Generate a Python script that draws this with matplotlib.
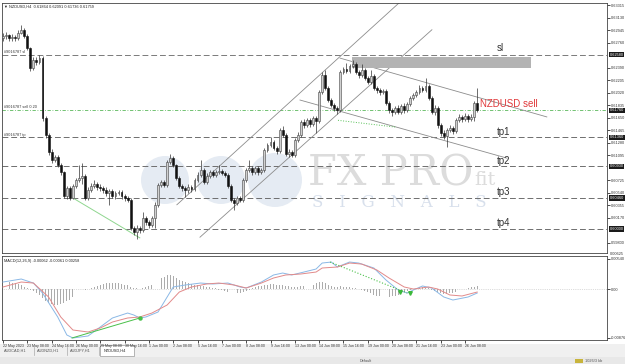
import matplotlib.pyplot as plt
from matplotlib.patches import Rectangle, Ellipse

plt.rcParams["font.family"] = ["Liberation Sans", "DejaVu Sans"]

# NZDUSD H4 bars, 22 May - 26 Jun 2023 (each bar opens at the previous close)
first_open = 0.6283
closes = [0.6286, 0.6287, 0.6283, 0.6284, 0.6283, 0.6290, 0.6295, 0.6286, 0.6268, 0.6238,
          0.6250, 0.6247, 0.6253, 0.6164, 0.6139, 0.6114, 0.6102, 0.6107, 0.6095, 0.6084,
          0.6049, 0.6061, 0.6046, 0.6064, 0.6073, 0.6076, 0.6079, 0.6046, 0.6058, 0.6064,
          0.6067, 0.6062, 0.6061, 0.6058, 0.6053, 0.6056, 0.6049, 0.6053, 0.6055, 0.6049,
          0.6046, 0.6043, 0.6001, 0.5996, 0.6001, 0.5999, 0.6016, 0.6010, 0.6006, 0.6016,
          0.6036, 0.6065, 0.6070, 0.6065, 0.6099, 0.6105, 0.6095, 0.6076, 0.6064, 0.6061,
          0.6058, 0.6062, 0.6059, 0.6073, 0.6080, 0.6087, 0.6070, 0.6079, 0.6084, 0.6080,
          0.6084, 0.6086, 0.6083, 0.6080, 0.6064, 0.6043, 0.6039, 0.6046, 0.6043, 0.6073,
          0.6087, 0.6090, 0.6084, 0.6090, 0.6084, 0.6087, 0.6117, 0.6124, 0.6129, 0.6120,
          0.6116, 0.6147, 0.6139, 0.6111, 0.6114, 0.6110, 0.6132, 0.6139, 0.6158, 0.6154,
          0.6161, 0.6155, 0.6164, 0.6160, 0.6203, 0.6228, 0.6209, 0.6191, 0.6184, 0.6179,
          0.6176, 0.6232, 0.6237, 0.6234, 0.6241, 0.6244, 0.6232, 0.6228, 0.6235, 0.6224,
          0.6218, 0.6227, 0.6209, 0.6206, 0.6203, 0.6204, 0.6187, 0.6176, 0.6173, 0.6179,
          0.6173, 0.6182, 0.6176, 0.6185, 0.6194, 0.6198, 0.6203, 0.6209, 0.6206, 0.6212,
          0.6194, 0.6173, 0.6179, 0.6154, 0.6142, 0.6138, 0.6147, 0.6150, 0.6145, 0.6161,
          0.6166, 0.6163, 0.6167, 0.6163, 0.6166, 0.6186, 0.6176]
highs = [0.6290, 0.6292, 0.6289, 0.6288, 0.6287, 0.6294, 0.6302, 0.6298, 0.6288, 0.6270,
         0.6254, 0.6255, 0.6257, 0.6256, 0.6167, 0.6142, 0.6118, 0.6110, 0.6110, 0.6098,
         0.6086, 0.6064, 0.6064, 0.6067, 0.6076, 0.6095, 0.6098, 0.6082, 0.6062, 0.6068,
         0.6073, 0.6070, 0.6066, 0.6064, 0.6062, 0.6059, 0.6060, 0.6057, 0.6058, 0.6058,
         0.6052, 0.6049, 0.6046, 0.6005, 0.6006, 0.6004, 0.6026, 0.6020, 0.6014, 0.6020,
         0.6040, 0.6068, 0.6073, 0.6073, 0.6102, 0.6111, 0.6108, 0.6097, 0.6079, 0.6067,
         0.6064, 0.6066, 0.6065, 0.6076, 0.6084, 0.6102, 0.6090, 0.6083, 0.6088, 0.6088,
         0.6087, 0.6095, 0.6089, 0.6086, 0.6083, 0.6066, 0.6046, 0.6049, 0.6049, 0.6076,
         0.6091, 0.6102, 0.6093, 0.6093, 0.6093, 0.6090, 0.6120, 0.6128, 0.6136, 0.6132,
         0.6123, 0.6150, 0.6152, 0.6142, 0.6118, 0.6117, 0.6135, 0.6143, 0.6161, 0.6163,
         0.6165, 0.6164, 0.6167, 0.6168, 0.6206, 0.6232, 0.6235, 0.6212, 0.6194, 0.6187,
         0.6182, 0.6235, 0.6240, 0.6246, 0.6244, 0.6250, 0.6247, 0.6235, 0.6244, 0.6238,
         0.6227, 0.6235, 0.6230, 0.6212, 0.6209, 0.6208, 0.6207, 0.6190, 0.6179, 0.6182,
         0.6183, 0.6185, 0.6186, 0.6188, 0.6197, 0.6202, 0.6206, 0.6213, 0.6212, 0.6224,
         0.6215, 0.6197, 0.6183, 0.6182, 0.6157, 0.6146, 0.6150, 0.6154, 0.6153, 0.6164,
         0.6170, 0.6169, 0.6172, 0.6170, 0.6170, 0.6189, 0.6209]
lows = [0.6279, 0.6281, 0.6278, 0.6279, 0.6278, 0.6280, 0.6288, 0.6283, 0.6265, 0.6234,
        0.6235, 0.6243, 0.6244, 0.6160, 0.6135, 0.6110, 0.6098, 0.6099, 0.6092, 0.6080,
        0.6046, 0.6045, 0.6043, 0.6044, 0.6061, 0.6070, 0.6066, 0.6043, 0.6043, 0.6055,
        0.6061, 0.6058, 0.6057, 0.6054, 0.6049, 0.6036, 0.6046, 0.6045, 0.6050, 0.6045,
        0.6042, 0.6040, 0.5998, 0.5991, 0.5986, 0.5994, 0.5996, 0.6006, 0.6002, 0.6003,
        0.6001, 0.6033, 0.6062, 0.6062, 0.6062, 0.6096, 0.6092, 0.6073, 0.6061, 0.6057,
        0.6048, 0.6054, 0.6055, 0.6056, 0.6070, 0.6077, 0.6066, 0.6067, 0.6076, 0.6077,
        0.6077, 0.6081, 0.6080, 0.6077, 0.6061, 0.6040, 0.6028, 0.6036, 0.6040, 0.6040,
        0.6070, 0.6084, 0.6080, 0.6081, 0.6080, 0.6081, 0.6084, 0.6114, 0.6121, 0.6117,
        0.6111, 0.6113, 0.6136, 0.6108, 0.6107, 0.6106, 0.6107, 0.6129, 0.6136, 0.6150,
        0.6151, 0.6151, 0.6152, 0.6142, 0.6157, 0.6200, 0.6206, 0.6188, 0.6180, 0.6175,
        0.6170, 0.6173, 0.6229, 0.6231, 0.6231, 0.6238, 0.6229, 0.6224, 0.6225, 0.6221,
        0.6214, 0.6215, 0.6206, 0.6202, 0.6199, 0.6200, 0.6184, 0.6172, 0.6168, 0.6170,
        0.6170, 0.6170, 0.6172, 0.6173, 0.6182, 0.6191, 0.6195, 0.6200, 0.6203, 0.6203,
        0.6191, 0.6170, 0.6169, 0.6150, 0.6138, 0.6134, 0.6122, 0.6143, 0.6141, 0.6142,
        0.6158, 0.6159, 0.6160, 0.6159, 0.6160, 0.6160, 0.6174]

# MACD(12,26,9) panel
hist = [0.0009, 0.0011, 0.0012, 0.0011, 0.0010, 0.0009, 0.0007, 0.0004, 0.0002, -0.0002,
        -0.0004, -0.0008, -0.0011, -0.0016, -0.0021, -0.0025, -0.0027, -0.0029, -0.0028, -0.0027,
        -0.0025, -0.0022, -0.0019, -0.0015, -0.0011, -0.0007, -0.0004, -0.0002, 0.0000, 0.0002,
        0.0004, 0.0006, 0.0008, 0.0009, 0.0010, 0.0011, 0.0011, 0.0011, 0.0010, 0.0009,
        0.0008, 0.0007, 0.0004, 0.0002, 0.0001, 0.0000, 0.0002, 0.0003, 0.0005, 0.0008,
        0.0012, 0.0016, 0.0019, 0.0022, 0.0025, 0.0025, 0.0023, 0.0020, 0.0017, 0.0014,
        0.0012, 0.0010, 0.0009, 0.0008, 0.0007, 0.0006, 0.0005, 0.0004, 0.0003, 0.0002,
        0.0001, -0.0001, -0.0002, -0.0004, -0.0005, -0.0007, -0.0008, -0.0008, -0.0007, -0.0005,
        -0.0003, -0.0001, 0.0002, 0.0004, 0.0005, 0.0006, 0.0007, 0.0008, 0.0009, 0.0009,
        0.0008, 0.0008, 0.0007, 0.0006, 0.0005, 0.0004, 0.0004, 0.0004, 0.0005, 0.0005,
        0.0006, 0.0007, 0.0008, 0.0010, 0.0012, 0.0013, 0.0010, 0.0008, 0.0005, 0.0004,
        0.0003, 0.0005, 0.0004, 0.0003, 0.0003, 0.0002, 0.0001, 0.0000, -0.0002, -0.0004,
        -0.0006, -0.0008, -0.0010, -0.0012, -0.0013, -0.0014, -0.0014, -0.0014, -0.0013, -0.0012,
        -0.0010, -0.0008, -0.0006, -0.0004, -0.0002, 0.0000, 0.0002, 0.0003, 0.0003, 0.0002,
        0.0001, -0.0002, -0.0004, -0.0006, -0.0008, -0.0009, -0.0009, -0.0008, -0.0007, -0.0006,
        -0.0004, -0.0002, 0.0000, 0.0002, 0.0003, 0.0004, 0.0005]
macd_bar = [0, 6, 10, 13, 18, 21, 23, 28, 32, 36, 41, 43, 45, 47, 51, 54, 56, 60, 65, 69,
            74, 78, 80, 85, 89, 92, 95, 99, 103, 105, 108, 110, 114, 117, 122, 126, 130, 133,
            135, 138, 141, 145, 148, 153, 156]
macd_val = [0.00125, 0.00179, 0.00107, -0.00072, -0.00501, -0.00823, -0.00877, -0.00841,
            -0.00680, -0.00519, -0.00430, -0.00465, -0.00519, -0.00501, -0.00412, -0.00143,
            0.00036, 0.00072, 0.00107, 0.00090, 0.00107, 0.00036, 0.00018, 0.00125, 0.00251,
            0.00286, 0.00251, 0.00304, 0.00358, 0.00465, 0.00483, 0.00394, 0.00483, 0.00465,
            0.00376, 0.00161, -0.00018, -0.00072, -0.00018, 0.00054, 0.00018, -0.00143,
            -0.00197, -0.00143, -0.00072]
sig_bar = [0, 6, 10, 15, 19, 23, 28, 32, 36, 41, 45, 49, 54, 58, 62, 67, 71, 76, 80, 85,
           89, 93, 98, 103, 105, 110, 114, 118, 123, 127, 132, 135, 140, 143, 147, 151, 156]
sig_val = [0.00036, 0.00125, 0.00107, -0.00143, -0.00501, -0.00734, -0.00770, -0.00698,
           -0.00591, -0.00519, -0.00501, -0.00430, -0.00286, -0.00054, 0.00036, 0.00090,
           0.00107, 0.00072, 0.00018, 0.00107, 0.00197, 0.00251, 0.00269, 0.00304, 0.00376,
           0.00394, 0.00465, 0.00447, 0.00340, 0.00197, 0.00036, 0.0, 0.00036, 0.0,
           -0.00107, -0.00125, -0.00054]

# order levels
entry = 0.6176
tp_names = ["tp1", "tp2", "tp3", "tp4"]
tp_levels = [0.6136, 0.6093, 0.6046, 0.6000]
sl_level = 0.6258

# drawn objects: (bar, price) anchor pairs
channel_up = [[(57.2, 0.6036), (130.6, 0.6336)], [(64.8, 0.5988), (141.1, 0.6295)]]
channel_down = [[(110.9, 0.6253), (178.9, 0.6166)], [(97.7, 0.6191), (165.8, 0.6105)]]
green_main = [(23, 0.6046), (45, 0.5987)]
green_dots_main = [(110.2, 0.6161), (129, 0.6151)]
zone_bars = (114.8, 173.7)
zone_prices = (0.6238, 0.6255)
macd_div1 = [(22.7, -0.00877), (45, -0.00519)]
macd_div2 = [(107.6, 0.00483), (133, -0.00072)]
macd_arrows_bar = [130.6, 133.9]
macd_arrows_val = [-0.00054, -0.00072]

price_ticks = [0.63315, 0.63130, 0.62945, 0.62760, 0.62390, 0.62205, 0.62020, 0.61835,
               0.61650, 0.61465, 0.61280, 0.61095, 0.60910, 0.60725, 0.60540, 0.60355,
               0.60170, 0.59985, 0.59800]
date_bars = list(range(0, 153, 8))
date_labels = ["22 May 2023", "23 May 08:00", "24 May 16:00", "26 May 00:00", "29 May 08:00",
               "30 May 16:00", "1 Jun 00:00", "2 Jun 08:00", "5 Jun 16:00", "7 Jun 00:00",
               "8 Jun 08:00", "9 Jun 16:00", "13 Jun 00:00", "14 Jun 08:00", "15 Jun 16:00",
               "19 Jun 00:00", "20 Jun 08:00", "21 Jun 16:00", "23 Jun 00:00", "26 Jun 08:00"]

W, H = 625, 364
def box(x0, y0, x1, y1):
    return [x0 / W, 1 - y1 / H, (x1 - x0) / W, (y1 - y0) / H]

fig = plt.figure(figsize=(W / 100, H / 100), dpi=100)
fs = 2.8

# background: tab strip + watermark
bg = fig.add_axes([0, 0, 1, 1], zorder=0)
bg.set_xlim(0, W); bg.set_ylim(H, 0); bg.axis("off")
bg.add_patch(Rectangle((0, 344), W, 20, color="#f0f0f0", lw=0))
bg.add_patch(Rectangle((0, 357), W, 7, color="#e8e8e8", lw=0))
for cx, cy, r in [(165, 180, 24), (221, 180, 24), (275, 180, 27)]:
    bg.add_patch(Ellipse((cx, cy), 2 * r, 2 * r, color="#e5ebf3", lw=0))
bg.text(308, 185, "FX PRO", family="DejaVu Serif", fontsize=30, color="#dcdcdc",
        va="baseline")
bg.text(474, 185, "fit", family="DejaVu Serif", fontsize=14, color="#dcdcdc", va="baseline")
bg.text(312, 207, "S   I   G   N   A   L   S", family="DejaVu Serif", fontsize=12,
        color="#d8e0ec", va="baseline")
# tabs
for x, t in [(4, "AUDCAD,H1"), (37, "AUDNZD,H1"), (70, "AUDJPY,H1")]:
    bg.text(x, 351, t, fontsize=fs, color="#555555", va="center")
for x in [34, 67, 99]:
    bg.plot([x, x], [347, 355], color="#aaaaaa", lw=0.5)
bg.add_patch(Rectangle((100, 345), 34, 11, facecolor="white", edgecolor="#999999", lw=0.5))
bg.text(104, 351, "NZDUSD,H4", fontsize=fs, color="#222222", va="center")
bg.text(360, 361, "Default", fontsize=fs, color="#555555", va="center")
bg.text(585, 361, "1026/3 kb", fontsize=fs, color="#555555", va="center")
bg.add_patch(Rectangle((575, 359), 8, 4, color="#c8b43c", lw=0))

# price panel
ax = fig.add_axes(box(2, 3, 607, 253), zorder=1)
ax.set_facecolor("none")
ax.set_xlim(-0.33, 198.7)
ax.set_ylim(0.59646, 0.63346)
n = len(closes)
opens = [first_open] + closes[:-1]
bars = list(range(n))
ax.vlines(bars, lows, highs, color="#333333", lw=0.5, zorder=3)
for i in bars:
    o, c = opens[i], closes[i]
    up = c >= o
    ax.bar(i, max(abs(c - o), 0.00004), bottom=min(o, c), width=0.62,
           color="#d0d0d0" if up else "#111111", edgecolor="#444444" if up else "#111111",
           lw=0.4, zorder=4)

for line in channel_up + channel_down:
    ax.plot([p[0] for p in line], [p[1] for p in line], color="#8c8c8c", lw=0.6, zorder=2)
ax.plot([p[0] for p in green_main], [p[1] for p in green_main], color="#8fd68f", lw=0.7, zorder=2)
ax.plot([p[0] for p in green_dots_main], [p[1] for p in green_dots_main], color="#55c055",
        lw=0.7, ls=":", zorder=2)
ax.add_patch(Rectangle((zone_bars[0], zone_prices[0]), zone_bars[1] - zone_bars[0],
                       zone_prices[1] - zone_prices[0], color="#b3b3b3", lw=0, zorder=2))

dash = (0, (6, 3))
ax.axhline(sl_level, color="#7a7a7a", lw=0.7, ls=dash, zorder=1)
for lv in tp_levels:
    ax.axhline(lv, color="#6e6e6e", lw=0.7, ls=dash, zorder=1)
ax.axhline(entry, color="#5cb85c", lw=0.6, ls=(0, (4, 2, 1, 2)), zorder=1)

ax.text(162.5, sl_level + 0.0002, "sl", fontsize=7, color="#333333", va="bottom")
for name, lv in zip(tp_names, tp_levels):
    ax.text(162.5, lv + 0.0001, name, fontsize=7, color="#333333", va="bottom")
ax.text(156.8, entry + 0.0001, "NZDUSD sell", fontsize=7, color="#e0383a", va="bottom")

ax.text(0.4, sl_level + 0.0001, "#9016787 sl", fontsize=fs, color="#333333", va="bottom")
ax.text(0.4, entry + 0.0001, "#9016787 sell 0.20", fontsize=fs, color="#333333", va="bottom")
ax.text(0.4, tp_levels[0] + 0.0001, "#9016787 tp", fontsize=fs, color="#333333", va="bottom")
ax.text(0.4, 0.6330, "\u25bc NZDUSD,H4  0.61864 0.62091 0.61736 0.61759", fontsize=fs,
        color="#222222", va="center")

marked = [sl_level, entry] + tp_levels
shown_ticks = [p for p in price_ticks if min(abs(p - m) for m in marked) > 0.0005]
ax.yaxis.tick_right()
ax.set_yticks(shown_ticks)
ax.set_yticklabels([f"{p:.5f}" for p in shown_ticks], fontsize=fs, color="#333333")
ax.tick_params(axis="y", length=2, width=0.5, pad=0.8)
ax.set_xticks([])
yt = ax.get_yaxis_transform()
for lv in marked:
    ax.text(1.0045, lv, f"{lv:.5f}", transform=yt, fontsize=fs, color="white", va="center",
            bbox=dict(boxstyle="square,pad=0.15", fc="#1a1a1a", ec="none"), clip_on=False)
for s in ax.spines.values():
    s.set_linewidth(0.6)
    s.set_color("#444444")

# MACD panel
ax2 = fig.add_axes(box(2, 256, 607, 340), zorder=1)
ax2.set_facecolor("none")
ax2.set_xlim(-0.33, 198.7)
ax2.set_ylim(-0.00913, 0.00591)
ax2.axhline(0, color="#bbbbbb", lw=0.5, ls=":")
ax2.bar(bars, hist, width=0.3, color="#acacac", zorder=2)
ax2.plot(macd_bar, macd_val, color="#8ab8e6", lw=0.7, zorder=3)
ax2.plot(sig_bar, sig_val, color="#e28a8a", lw=0.7, zorder=3)
ax2.plot([p[0] for p in macd_div1], [p[1] for p in macd_div1], color="#49c049", lw=0.7, zorder=4)
ax2.plot(macd_div1[1][0], macd_div1[1][1], "o", color="#49c049", ms=2.2, zorder=4)
ax2.plot([p[0] for p in macd_div2], [p[1] for p in macd_div2], color="#49c049", lw=0.8,
         ls=":", zorder=4)
ax2.plot(macd_arrows_bar, macd_arrows_val, "v", color="#3cb83c", ms=2.6, zorder=5)
ax2.text(0.4, 0.0051, "MACD(12,26,9) -0.00062 -0.00061 0.00258", fontsize=fs, color="#222222",
         va="center")
ax2.yaxis.tick_right()
ax2.set_yticks([0.0054, 0.0, -0.00876])
ax2.set_yticklabels(["0.00540", "0.00", "-0.00876"], fontsize=fs, color="#333333")
ax2.text(1.0045, 1.02, "0.00625", transform=ax2.transAxes, fontsize=fs, color="#333333",
         va="center")
ax2.tick_params(axis="y", length=2, width=0.5, pad=0.8)
ax2.set_xticks(date_bars)
ax2.set_xticklabels(date_labels, fontsize=2.6, color="#333333", ha="left")
ax2.tick_params(axis="x", length=2, width=0.5, pad=1)
for s in ax2.spines.values():
    s.set_linewidth(0.6)
    s.set_color("#444444")

fig.savefig("out.png", dpi=100)
